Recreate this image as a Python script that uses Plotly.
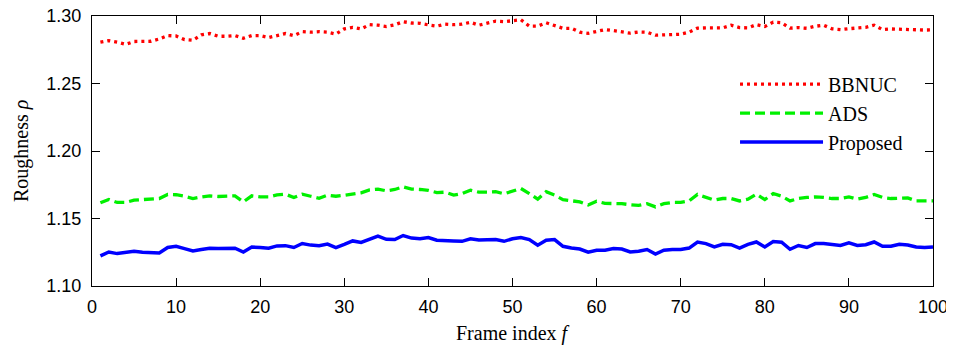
import plotly.graph_objects as go

frames = list(range(1, 101))

bbnuc = [1.2806, 1.2818, 1.2806, 1.2790, 1.2811, 1.2813, 1.2813, 1.2830, 1.2855, 1.2852,
         1.2825, 1.2820, 1.2860, 1.2870, 1.2850, 1.2850, 1.2855, 1.2835, 1.2855, 1.2855,
         1.2840, 1.2855, 1.2870, 1.2855, 1.2884, 1.2880, 1.2884, 1.2880, 1.2866, 1.2905,
         1.2916, 1.2904, 1.2936, 1.2932, 1.2922, 1.2935, 1.2958, 1.2948, 1.2946, 1.2934,
         1.2925, 1.2940, 1.2936, 1.2940, 1.2953, 1.2932, 1.2948, 1.2962, 1.2958, 1.2965,
         1.2972, 1.2925, 1.2925, 1.2950, 1.2930, 1.2909, 1.2909, 1.2880, 1.2872, 1.2888,
         1.2899, 1.2892, 1.2880, 1.2873, 1.2882, 1.2880, 1.2858, 1.2860, 1.2865, 1.2865,
         1.2880, 1.2910, 1.2912, 1.2909, 1.2912, 1.2932, 1.2914, 1.2912, 1.2936, 1.2922,
         1.2955, 1.2950, 1.2910, 1.2914, 1.2909, 1.2924, 1.2932, 1.2905, 1.2899, 1.2906,
         1.2910, 1.2916, 1.2932, 1.2899, 1.2904, 1.2904, 1.2903, 1.2898, 1.2896, 1.2897]

ads = [1.1616, 1.1641, 1.1619, 1.1619, 1.1636, 1.1641, 1.1641, 1.1648, 1.1678, 1.1676,
       1.1665, 1.1648, 1.1660, 1.1668, 1.1663, 1.1663, 1.1668, 1.1623, 1.1668, 1.1660,
       1.1660, 1.1675, 1.1680, 1.1656, 1.1680, 1.1665, 1.1650, 1.1673, 1.1665, 1.1672,
       1.1683, 1.1690, 1.1712, 1.1718, 1.1705, 1.1715, 1.1735, 1.1718, 1.1715, 1.1708,
       1.1692, 1.1695, 1.1673, 1.1685, 1.1710, 1.1695, 1.1695, 1.1698, 1.1683, 1.1705,
       1.1722, 1.1685, 1.1643, 1.1698, 1.1673, 1.1640, 1.1630, 1.1623, 1.1600, 1.1628,
       1.1612, 1.1612, 1.1610, 1.1602, 1.1597, 1.1610, 1.1586, 1.1610, 1.1619, 1.1619,
       1.1630, 1.1678, 1.1656, 1.1636, 1.1648, 1.1648, 1.1630, 1.1643, 1.1680, 1.1640,
       1.1685, 1.1665, 1.1630, 1.1648, 1.1656, 1.1660, 1.1656, 1.1648, 1.1648, 1.1660,
       1.1643, 1.1656, 1.1678, 1.1656, 1.1648, 1.1653, 1.1653, 1.1630, 1.1630, 1.1630]

proposed = [1.1223, 1.1252, 1.1240, 1.1247, 1.1257, 1.1250, 1.1245, 1.1245, 1.1285, 1.1294,
            1.1277, 1.1260, 1.1270, 1.1280, 1.1278, 1.1278, 1.1280, 1.1252, 1.1289, 1.1285,
            1.1280, 1.1297, 1.1299, 1.1285, 1.1315, 1.1303, 1.1299, 1.1310, 1.1285, 1.1308,
            1.1334, 1.1323, 1.1344, 1.1369, 1.1346, 1.1344, 1.1374, 1.1355, 1.1350, 1.1359,
            1.1339, 1.1339, 1.1334, 1.1331, 1.1350, 1.1340, 1.1344, 1.1344, 1.1331, 1.1350,
            1.1359, 1.1344, 1.1302, 1.1339, 1.1344, 1.1294, 1.1281, 1.1274, 1.1250, 1.1265,
            1.1265, 1.1277, 1.1274, 1.1252, 1.1257, 1.1270, 1.1237, 1.1265, 1.1270, 1.1270,
            1.1281, 1.1326, 1.1314, 1.1289, 1.1309, 1.1306, 1.1281, 1.1309, 1.1326, 1.1289,
            1.1329, 1.1324, 1.1272, 1.1300, 1.1285, 1.1314, 1.1314, 1.1304, 1.1300, 1.1319,
            1.1300, 1.1306, 1.1326, 1.1294, 1.1294, 1.1309, 1.1304, 1.1289, 1.1285, 1.1289]

x_ticks = [0, 10, 20, 30, 40, 50, 60, 70, 80, 90, 100]
y_ticks = [1.10, 1.15, 1.20, 1.25, 1.30]
y_tick_labels = ["1.10", "1.15", "1.20", "1.25", "1.30"]

fig = go.Figure()
fig.add_trace(go.Scatter(x=frames, y=bbnuc, mode="lines", name="BBNUC",
                         line=dict(color="#ff0000", width=3.3, dash="3px,4px")))
fig.add_trace(go.Scatter(x=frames, y=ads, mode="lines", name="ADS",
                         line=dict(color="#00f000", width=3.3, dash="10px,5px")))
fig.add_trace(go.Scatter(x=frames, y=proposed, mode="lines", name="Proposed",
                         line=dict(color="#0000ff", width=3.5)))

serif = "Liberation Serif, Times New Roman, serif"
sans = "Liberation Sans, Arial, sans-serif"

axis_common = dict(ticks="inside", ticklen=8, tickcolor="black", showline=True,
                   linecolor="black", linewidth=1.2, mirror="allticks",
                   showgrid=False, zeroline=False, automargin=False,
                   ticklabeloverflow="allow",
                   tickfont=dict(family=sans, size=18, color="black"))

# the page body adds an 8px offset, so the figure is 8px smaller on each side
fig.update_layout(
    width=946, height=337,
    margin=dict(l=84, r=21, t=8, b=59, autoexpand=False),
    paper_bgcolor="white", plot_bgcolor="white",
    showlegend=True,
    legend=dict(x=0.7646, y=0.82, xanchor="left", yanchor="top",
                bgcolor="rgba(0,0,0,0)", borderwidth=0,
                font=dict(family=serif, size=20, color="black"),
                tracegroupgap=0, itemwidth=83),
    xaxis=dict(range=[0, 100], tickvals=x_ticks, ticklabelstandoff=4, **axis_common),
    yaxis=dict(range=[1.10, 1.30], tickvals=y_ticks, ticktext=y_tick_labels,
               ticklabelstandoff=6, **axis_common),
    annotations=[
        dict(text="Frame index <i>f</i>", xref="paper", yref="paper",
             x=0.5, y=-0.176, xanchor="center", yanchor="middle", showarrow=False,
             font=dict(family=serif, size=20, color="black")),
        dict(text="Roughness <i>ρ</i>", xref="paper", yref="paper",
             x=-0.0844, y=0.5, xanchor="center", yanchor="middle", showarrow=False,
             textangle=-90, font=dict(family=serif, size=20, color="black")),
    ],
)

fig.write_html("out.html")
